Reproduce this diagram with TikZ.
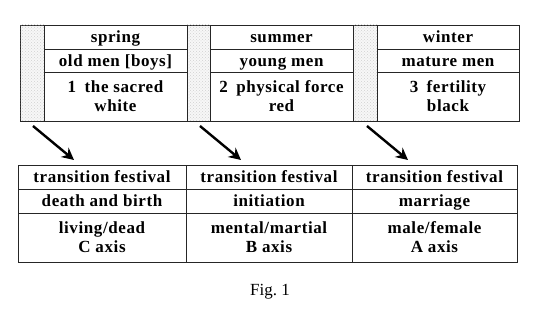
\documentclass[tikz,border=0pt]{standalone}
\usepackage{fontspec}
\setmainfont{Liberation Serif}
\newfontfamily\cellfont[LetterSpace=3.5]{Liberation Serif}
\usetikzlibrary{arrows.meta,patterns}
\begin{document}
\begin{tikzpicture}[x=1pt,y=-1pt,
 cell/.style={draw=black!85,line width=0.8pt,inner sep=0pt,align=center,
   font={\cellfont\bfseries\fontsize{17}{19}\selectfont}},
 one/.style={text height=17pt,text depth=5pt},
 stip/.style={draw=black!85,line width=0.8pt,fill=black!3,inner sep=0pt,
   postaction={pattern=crosshatch dots,pattern color=black!18}},
 arr/.style={line width=2.4pt,-{Stealth[length=12pt,width=12pt]}}]
\useasboundingbox (0,0) rectangle (542,323);
% top table
\node[stip,minimum width=24pt,minimum height=96pt] (s1) at (32,73) {};
\node[stip,minimum width=23pt,minimum height=96pt] (s2) at (198.5,73) {};
\node[stip,minimum width=24pt,minimum height=96pt] (s3) at (365,73) {};
\node[cell,one,minimum width=143pt,minimum height=24pt] (t11) at (115.5,37) {spring};
\node[cell,one,minimum width=143pt,minimum height=23pt] (t12) at (115.5,60.5) {old men [boys]};
\node[cell,minimum width=143pt,minimum height=49pt] (t13) at (115.5,96.5) {1\enspace the sacred\\white};
\node[cell,one,minimum width=143pt,minimum height=24pt] (t21) at (281.5,37) {summer};
\node[cell,one,minimum width=143pt,minimum height=23pt] (t22) at (281.5,60.5) {young men};
\node[cell,minimum width=143pt,minimum height=49pt] (t23) at (281.5,96.5) {2\enspace physical force\\red};
\node[cell,one,minimum width=142pt,minimum height=24pt] (t31) at (448,37) {winter};
\node[cell,one,minimum width=142pt,minimum height=23pt] (t32) at (448,60.5) {mature men};
\node[cell,minimum width=142pt,minimum height=49pt] (t33) at (448,96.5) {3\enspace fertility\\black};
% bottom table
\node[cell,one,minimum width=168pt,minimum height=24pt] (b11) at (102,177) {transition festival};
\node[cell,one,minimum width=168pt,minimum height=24pt] (b12) at (102,201) {death and birth};
\node[cell,minimum width=168pt,minimum height=49pt] (b13) at (102,237.5) {living/dead\\C axis};
\node[cell,one,minimum width=166pt,minimum height=24pt] (b21) at (269,177) {transition festival};
\node[cell,one,minimum width=166pt,minimum height=24pt] (b22) at (269,201) {initiation};
\node[cell,minimum width=166pt,minimum height=49pt] (b23) at (269,237.5) {mental/martial\\B axis};
\node[cell,one,minimum width=165pt,minimum height=24pt] (b31) at (434.5,177) {transition festival};
\node[cell,one,minimum width=165pt,minimum height=24pt] (b32) at (434.5,201) {marriage};
\node[cell,minimum width=165pt,minimum height=49pt] (b33) at (434.5,237.5) {male/female\\A axis};
% arrows
\coordinate (a1s) at (33,126); \coordinate (a1e) at (74,160);
\coordinate (a2s) at (200,126); \coordinate (a2e) at (241,160);
\coordinate (a3s) at (367,126); \coordinate (a3e) at (408,160);
\draw[arr] (a1s) -- (a1e);
\draw[arr] (a2s) -- (a2e);
\draw[arr] (a3s) -- (a3e);
\node[font={\fontsize{17}{20}\selectfont}] (cap) at (270,292) {Fig.~1};
\end{tikzpicture}
\end{document}
